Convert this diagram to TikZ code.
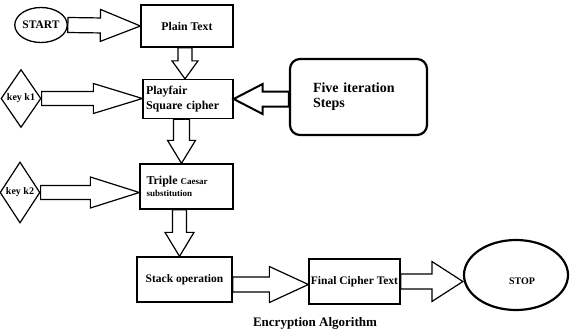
\documentclass[tikz,border=0pt]{standalone}
\usepackage{fontspec}
\setmainfont{Liberation Serif}
\usetikzlibrary{shapes.geometric,calc}

\newcommand{\fsz}[2]{\fontsize{#1}{#2}\selectfont}

\begin{document}
\begin{tikzpicture}[x=1pt, y=-1pt,
    every node/.style={font=\bfseries},
    box/.style={draw, line width=1.3pt, inner sep=3pt},
    key/.style={draw, diamond, line width=1.2pt, inner sep=0pt,
      minimum width=40pt, minimum height=58pt},
    fat/.style n args={3}{line width=1.2pt, to path={
      ($(\tikztostart)!#1!90:(\tikztotarget)$)
      -- ($(\tikztotarget)!#3!(\tikztostart)!#1!90:(\tikztotarget)$)
      -- ($(\tikztotarget)!#3!(\tikztostart)!#2!90:(\tikztotarget)$)
      -- (\tikztotarget)
      -- ($(\tikztotarget)!#3!(\tikztostart)!#2!-90:(\tikztotarget)$)
      -- ($(\tikztotarget)!#3!(\tikztostart)!#1!-90:(\tikztotarget)$)
      -- ($(\tikztostart)!#1!-90:(\tikztotarget)$) -- cycle}}]
  \useasboundingbox (0,0) rectangle (570,332);

  % Start and plain text
  \node[draw, ellipse, line width=1.3pt, inner sep=0pt, minimum width=51pt,
    minimum height=35pt, font=\bfseries\fsz{11.5}{13}] (start) at (41,25) {START};
  \node[box, minimum width=92pt, minimum height=42pt,
    font=\bfseries\fsz{11.8}{13}] (plain) at (187,26) {Plain Text};

  % Playfair step, its key and the iterations
  \node[box, text width=84pt, align=left, minimum height=39pt,
    font=\bfseries\fsz{12}{15.5}] (play) at (188,99) {Playfair\\Square cipher};
  \node[key, label={[font=\bfseries\fsz{10}{12}]center:key k1}] (k1) at (21,98.5) {};
  \node[draw, rounded corners=10pt, line width=2.2pt, text width=91pt,
    inner xsep=23pt, minimum height=76pt, align=left,
    font=\bfseries\fsz{14}{15}] (five) at (358.5,97) {Five iteration\\Steps};

  % Triple Caesar step and its key
  \node[box, text width=80pt, inner xsep=6.5pt, align=left, minimum height=45pt,
    font=\bfseries\fsz{9}{12}] (triple) at (186.5,186.5)
    {{\fsz{12}{12}Triple} Caesar\\substitution};
  \node[key, minimum height=61pt, label={[font=\bfseries\fsz{10}{12}]center:key k2}]
    (k2) at (20,192.5) {};

  % Stack, final text and stop
  \node[box, minimum width=95pt, minimum height=45pt,
    font=\bfseries\fsz{11.5}{13}] (stack) at (184.5,279.5) {Stack operation};
  \node[box, inner sep=1pt, minimum width=91pt, minimum height=45pt,
    font=\bfseries\fsz{11.5}{13}] (final) at (354.5,281.5) {Final Cipher Text};
  \node[draw, ellipse, line width=2.2pt, minimum width=104pt, minimum height=70pt,
    label={[xshift=6pt, yshift=-6pt, font=\bfseries\fsz{10}{11}]center:STOP}]
    (stop) at (516,275) {};

  % Caption
  \node[font=\bfseries\fsz{13}{14}] (caption) at (315,323) {Encryption Algorithm};

  % Block arrows
  \draw[fat={7.5pt}{16pt}{40pt}] (start.east) to (plain.west);
  \draw[fat={7pt}{13pt}{18pt}] ([xshift=-2pt]plain.south) to ([xshift=-3pt]play.north);
  \draw[fat={7pt}{15pt}{49pt}] (k1.east) to (k1.east -| play.west);
  \draw[fat={7.5pt}{15pt}{29pt}, line width=2pt] (five.west |- play.east) to (play.east);
  \draw[fat={8pt}{14pt}{23pt}] ([xshift=-6.5pt]play.south) to ([xshift=-5pt]triple.north);
  \draw[fat={7pt}{15.5pt}{49pt}] (k2.east) to (k2.east -| triple.west);
  \draw[fat={7pt}{14.5pt}{24pt}] ([xshift=-7pt]triple.south) to ([xshift=-5pt]stack.north);
  \draw[fat={7.5pt}{18pt}{39pt}] ([yshift=-5pt]stack.east) to ([yshift=-3pt]final.west);
  \draw[fat={7.5pt}{20pt}{31pt}] (final.east) to (final.east -| stop.west);
\end{tikzpicture}
\end{document}
